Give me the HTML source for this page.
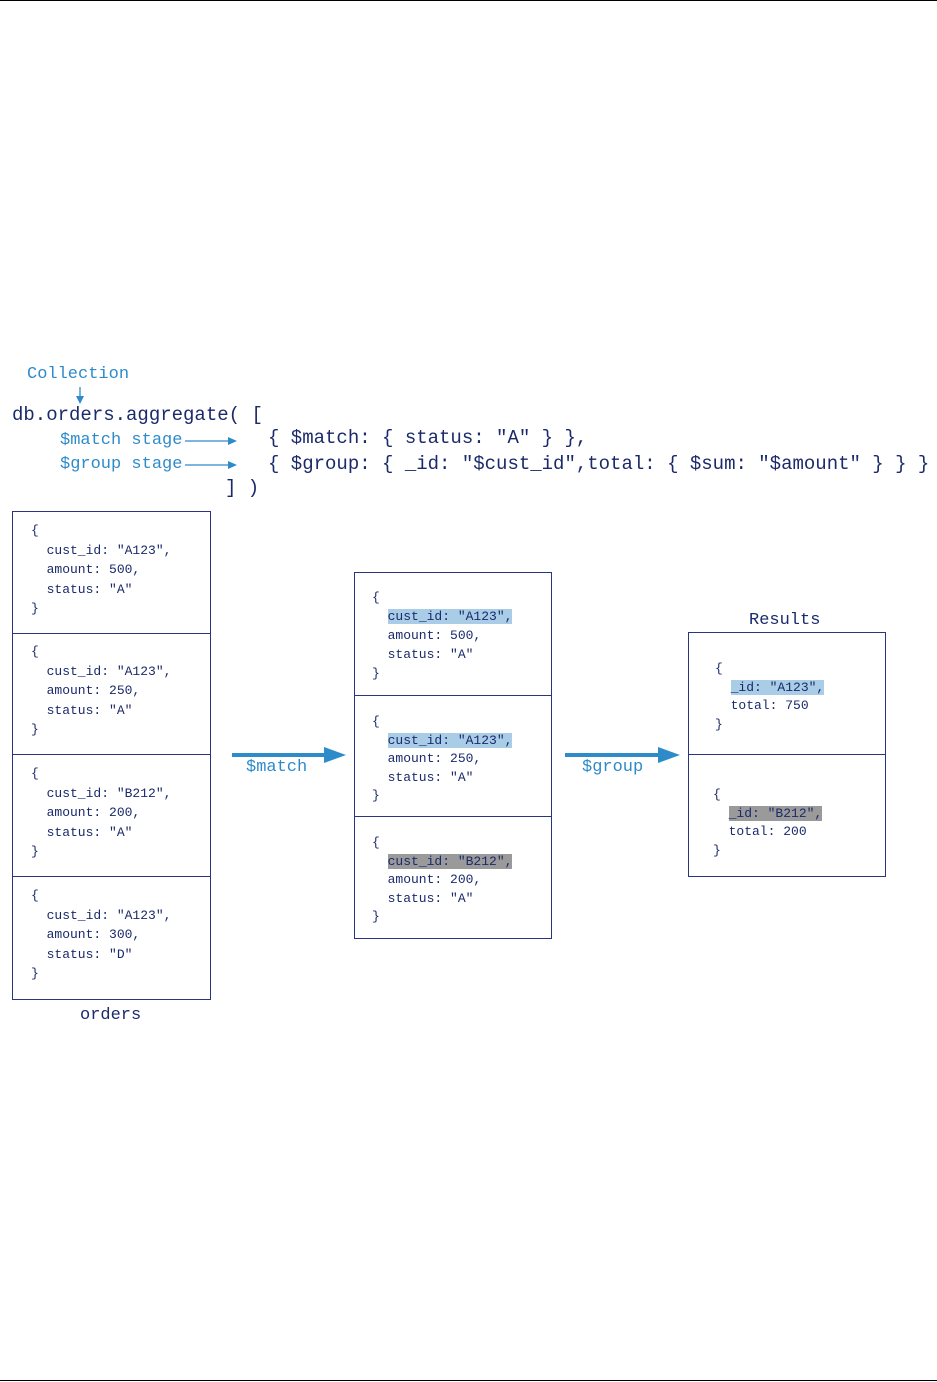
<!DOCTYPE html>
<html><head><meta charset="utf-8"><style>
body{margin:0;width:937px;height:1382px;position:relative;background:#fff;overflow:hidden;font-family:"Liberation Mono",monospace;}
.a{position:absolute;white-space:pre;line-height:1;}
.n{color:#1b2a6b}.b{color:#2e8bc9}
.box{position:absolute;border:1.3px solid #2a3580;box-sizing:border-box;}
.hl{background:#a9cde6}.hg{background:#9a9a9a}
.t{font-size:13px;color:#1b2a6b}
</style></head><body>
<div style="position:absolute;left:0;top:0;width:937px;height:1px;background:#000"></div>
<div style="position:absolute;left:0;top:1380px;width:937px;height:1px;background:#000"></div>

<div class="a b" style="left:27px;top:366px;font-size:17px">Collection</div>
<svg style="position:absolute;left:0;top:0" width="937" height="1382">
<g stroke="#2e8bc9" fill="#2e8bc9">
<line x1="80" y1="387" x2="80" y2="398" stroke-width="1.3"/><polygon points="76,396 84,396 80,404" stroke="none"/>
<line x1="185" y1="441" x2="230" y2="441" stroke-width="1.3"/><polygon points="228,437 237,441 228,445" stroke="none"/>
<line x1="185" y1="465" x2="230" y2="465" stroke-width="1.3"/><polygon points="228,461 237,465 228,469" stroke="none"/>
<line x1="232" y1="755" x2="326" y2="755" stroke-width="4"/><polygon points="324,747 346,755 324,763" stroke="none"/>
<line x1="565" y1="755" x2="660" y2="755" stroke-width="4"/><polygon points="658,747 680,755 658,763" stroke="none"/>
</g></svg>
<div class="a n" style="left:12px;top:406px;font-size:19px">db.orders.aggregate( [</div>
<div class="a b" style="left:60px;top:432px;font-size:17px">$match stage</div>
<div class="a b" style="left:60px;top:456px;font-size:17px">$group stage</div>
<div class="a n" style="left:268px;top:429px;font-size:19px">{ $match: { status: "A" } },</div>
<div class="a n" style="left:268px;top:455px;font-size:19px">{ $group: { _id: "$cust_id",total: { $sum: "$amount" } } }</div>
<div class="a n" style="left:225px;top:479px;font-size:19px">] )</div>

<div class="box" style="left:12px;top:511px;width:199px;height:489px"></div>
<div style="position:absolute;left:12px;top:633px;width:199px;height:1.3px;background:#2a3580"></div>
<div style="position:absolute;left:12px;top:754px;width:199px;height:1.3px;background:#2a3580"></div>
<div style="position:absolute;left:12px;top:876px;width:199px;height:1.3px;background:#2a3580"></div>
<div class="a t" style="left:31px;top:521px;line-height:19.5px">{
  cust_id: "A123",
  amount: 500,
  status: "A"
}</div>
<div class="a t" style="left:31px;top:642px;line-height:19.5px">{
  cust_id: "A123",
  amount: 250,
  status: "A"
}</div>
<div class="a t" style="left:31px;top:764px;line-height:19.5px">{
  cust_id: "B212",
  amount: 200,
  status: "A"
}</div>
<div class="a t" style="left:31px;top:886px;line-height:19.5px">{
  cust_id: "A123",
  amount: 300,
  status: "D"
}</div>
<div class="a n" style="left:80px;top:1007px;font-size:17px">orders</div>

<div class="a b" style="left:246px;top:759px;font-size:17px">$match</div>
<div class="a b" style="left:582px;top:759px;font-size:17px">$group</div>

<div class="box" style="left:354px;top:572px;width:198px;height:367px"></div>
<div style="position:absolute;left:354px;top:695px;width:198px;height:1.3px;background:#2a3580"></div>
<div style="position:absolute;left:354px;top:816px;width:198px;height:1.3px;background:#2a3580"></div>
<div class="a t" style="left:372px;top:588px;line-height:19px">{
  <span class="hl">cust_id: "A123",</span>
  amount: 500,
  status: "A"
}</div>
<div class="a t" style="left:372px;top:713px;line-height:18.5px">{
  <span class="hl">cust_id: "A123",</span>
  amount: 250,
  status: "A"
}</div>
<div class="a t" style="left:372px;top:834px;line-height:18.5px">{
  <span class="hg">cust_id: "B212",</span>
  amount: 200,
  status: "A"
}</div>

<div class="a n" style="left:749px;top:612px;font-size:17px">Results</div>
<div class="box" style="left:688px;top:632px;width:198px;height:245px"></div>
<div style="position:absolute;left:688px;top:754px;width:198px;height:1.3px;background:#2a3580"></div>
<div class="a t" style="left:715px;top:660px;line-height:18.5px">{
  <span class="hl">_id: "A123",</span>
  total: 750
}</div>
<div class="a t" style="left:713px;top:786px;line-height:18.5px">{
  <span class="hg">_id: "B212",</span>
  total: 200
}</div>
</body></html>
